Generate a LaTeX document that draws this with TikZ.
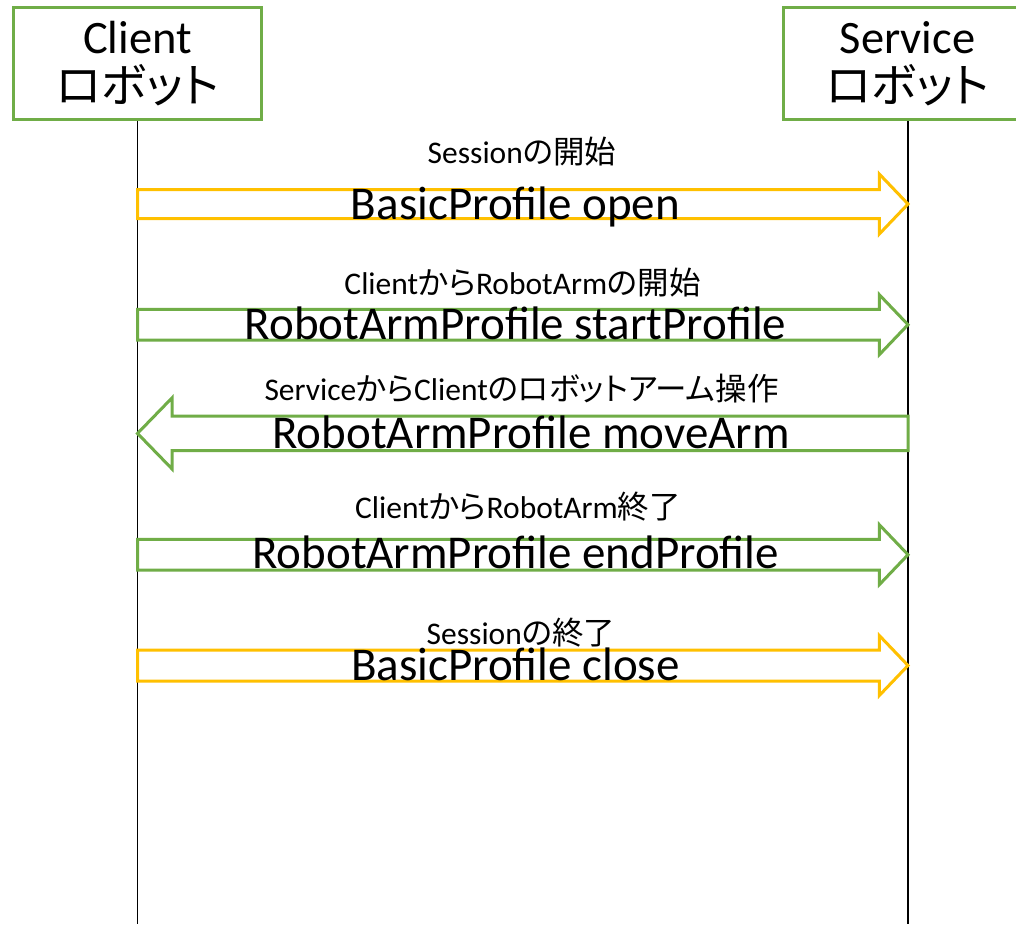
\documentclass[tikz,border=0pt]{standalone}
\usepackage{fontspec}
\setmainfont{Carlito}
\newfontfamily\jp[RawFeature=+palt]{Noto Sans CJK JP}
\usetikzlibrary{calc}
\definecolor{msggreen}{HTML}{70AD47}
\definecolor{msgyellow}{HTML}{FFC000}
\tikzset{
  lifebox/.style={draw=msggreen, line width=3pt, minimum width=248pt,
    minimum height=112pt, inner sep=0pt},
  lifeline/.style={line width=1.3pt, black},
  headtext/.style={font=\fontsize{46.5}{50}\selectfont, anchor=base, inner sep=0pt,
    text height=30pt, text depth=2pt},
  msgtext/.style={font=\fontsize{47}{50}\selectfont, anchor=base, inner sep=0pt},
  notetext/.style={font=\fontsize{31.5}{34}\selectfont, anchor=base, inner sep=0pt},
}
% block arrow: #1 colour, #2 tail, #3 tip, #4 body half-height,
% #5 head half-height, #6 head length
\newcommand\blockarrow[6]{%
  \draw[#1, line width=3pt, line join=miter, miter limit=10]
    let \p1=(#2), \p2=(#3), \p3=($(#3)!#6pt!(#2)$) in
    (\x1,\y1+#4pt) -- (\x3,\y1+#4pt) -- (\x3,\y1+#5pt) -- (\x2,\y2)
    -- (\x3,\y1-#5pt) -- (\x3,\y1-#4pt) -- (\x1,\y1-#4pt) -- cycle;
}
\begin{document}
\begin{tikzpicture}[x=1pt,y=-1pt]
\useasboundingbox (0,0) rectangle (1016,924);
\fill[white] (0,0) rectangle (1016,924);

% participants
\node[lifebox] (client) at (137.5,63.5) {};
\node[lifebox] (service) at (907.5,63.5) {};
\node[headtext] (clientname) at (137.5,53) {Client};
\node[headtext] (clientrobot) at (137.5,102) {\jp ロボット};
\node[headtext] (servicename) at (907.5,53) {Service};
\node[headtext] (servicerobot) at (907.5,102) {\jp ロボット};

% lifelines
\coordinate (cend) at (137.5,924);
\coordinate (send) at (908,924);
\draw[lifeline] (client.south) -- (cend);
\draw[lifeline] (service.south -| send) -- (send);

% message anchors on the lifelines
\coordinate (c1) at (137.5,204);   \coordinate (s1) at (908,204);
\coordinate (c2) at (137.5,324.7); \coordinate (s2) at (908,324.7);
\coordinate (c3) at (137.5,433.4); \coordinate (s3) at (908,433.4);
\coordinate (c4) at (137.5,554.7); \coordinate (s4) at (908,554.7);
\coordinate (c5) at (137.5,665.5); \coordinate (s5) at (908,665.5);

% messages
\blockarrow{msgyellow}{c1}{s1}{14.5}{30}{28.7}
\blockarrow{msggreen}{c2}{s2}{15.3}{30}{28.7}
\blockarrow{msggreen}{s3}{c3}{17.3}{35.5}{34.5}
\blockarrow{msggreen}{c4}{s4}{15.3}{30}{28.7}
\blockarrow{msgyellow}{c5}{s5}{15.5}{30}{28.7}

% captions
\node[notetext] (n1) at (522,163) {Session{\jp の開始}};
\node[msgtext]  (m1) at (515.5,219.3) {BasicProfile open};
\node[notetext] (n2) at (522.5,294) {Client{\jp から}RobotArm{\jp の開始}};
\node[msgtext]  (m2) at (515.5,339.5) {RobotArmProfile startProfile};
\node[notetext] (n3) at (521.5,400) {Service{\jp から}Client{\jp のロボットアーム操作}};
\node[msgtext]  (m3) at (531,448.5) {RobotArmProfile moveArm};
\node[notetext] (n4) at (518,518) {Client{\jp から}RobotArm{\jp 終了}};
\node[msgtext]  (m4) at (515.5,568.5) {RobotArmProfile endProfile};
\node[notetext] (n5) at (521,644) {Session{\jp の終了}};
\node[msgtext]  (m5) at (515.5,680) {BasicProfile close};
\end{tikzpicture}
\end{document}
